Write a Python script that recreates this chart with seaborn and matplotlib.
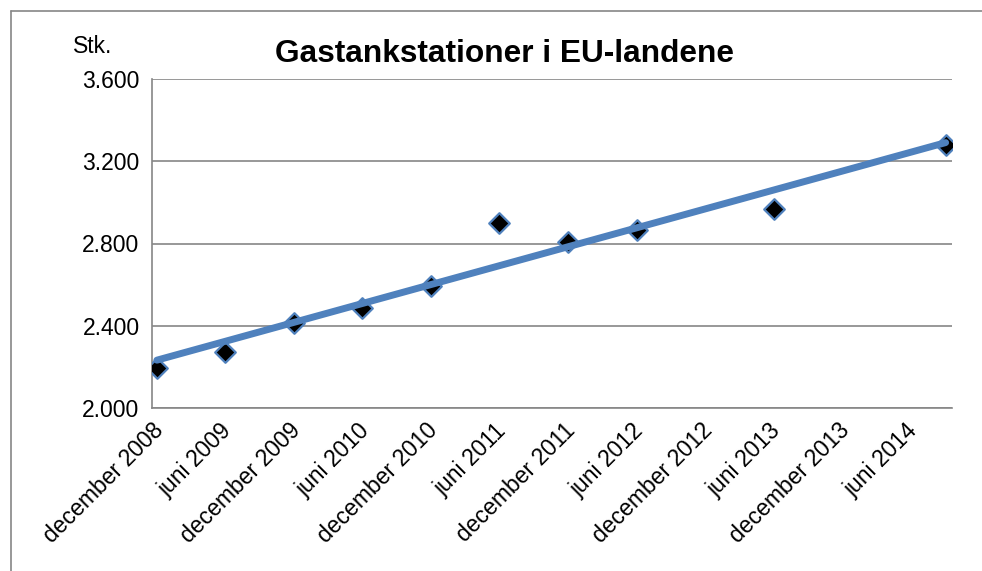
import numpy as np
import pandas as pd
import seaborn as sns
import matplotlib
matplotlib.use("Agg")
import matplotlib.pyplot as plt
import matplotlib.dates as mdates
from matplotlib.lines import Line2D
from matplotlib.ticker import FuncFormatter

# data
dates = ['2008-12-14', '2009-06-14', '2009-12-14', '2010-06-14', '2010-12-14',
         '2011-06-14', '2011-12-14', '2012-06-14', '2013-06-14', '2014-09-14']
stations = [2196, 2274, 2415, 2485, 2593, 2901, 2809, 2866, 2968, 3279]

tick_dates = ['2008-12-01', '2009-06-01', '2009-12-01', '2010-06-01', '2010-12-01',
              '2011-06-01', '2011-12-01', '2012-06-01', '2012-12-01', '2013-06-01',
              '2013-12-01', '2014-06-01']
tick_labels = ['december 2008', 'juni 2009', 'december 2009', 'juni 2010',
               'december 2010', 'juni 2011', 'december 2011', 'juni 2012',
               'december 2012', 'juni 2013', 'december 2013', 'juni 2014']
y_ticks = [2000, 2400, 2800, 3200, 3600]

BLUE = '#4F81BD'
GRAY = '#868686'

sns.set_style('white')
plt.rcParams['font.family'] = ['Liberation Sans', 'DejaVu Sans']
plt.rcParams['text.color'] = 'black'

df = pd.DataFrame({'dato': mdates.date2num(pd.to_datetime(dates)), 'antal': stations})

fig = plt.figure(figsize=(9.82, 5.71), dpi=100)
ax = fig.add_axes([152 / 982, 1 - 408 / 571, 800 / 982, 329 / 571])

sns.scatterplot(data=df, x='dato', y='antal', marker='D', s=110, color='black',
                edgecolor=BLUE, linewidth=1.6, zorder=3, ax=ax)
sns.regplot(data=df, x='dato', y='antal', scatter=False, ci=None, ax=ax,
            line_kws=dict(color=BLUE, lw=5, solid_capstyle='round', zorder=4))

ax.set_xlim(mdates.date2num(pd.Timestamp('2008-12-01')),
            mdates.date2num(pd.Timestamp('2014-10-01')))
ax.set_ylim(2000, 3600)
ax.set_yticks(y_ticks)
ax.yaxis.set_major_formatter(FuncFormatter(lambda v, p: f'{int(v):,}'.replace(',', '.')))
ax.set_xticks(mdates.date2num(pd.to_datetime(tick_dates)))
ax.set_xticklabels(tick_labels, rotation=45, ha='right', rotation_mode='anchor')
ax.set_xlabel('')
ax.set_ylabel('')

ax.grid(axis='y', color=GRAY, lw=1.2)
ax.set_axisbelow(True)
for s in ['top', 'right']:
    ax.spines[s].set_visible(False)
for s in ['left', 'bottom']:
    ax.spines[s].set_color(GRAY)
    ax.spines[s].set_linewidth(1.2)
ax.tick_params(axis='both', which='both', direction='out', length=5, width=1.2,
               color=GRAY, labelsize=16.5, labelcolor='black', pad=4)
ax.tick_params(axis='x', pad=3)

fig.text(504 / 982, 1 - 62 / 571, 'Gastankstationer i EU-landene', ha='center',
         va='baseline', fontsize=22.8, fontweight='bold', color='black')
fig.text(73 / 982, 1 - 53 / 571, 'Stk.', ha='left', va='baseline', fontsize=16.5,
         color='black')

# chart frame (cropped at right and bottom)
fig.add_artist(Line2D([11 / 982, 11 / 982], [0, 1 - 11 / 571], color=GRAY, lw=1.2))
fig.add_artist(Line2D([11 / 982, 1], [1 - 11 / 571, 1 - 11 / 571], color=GRAY, lw=1.2))

fig.savefig('out.png', dpi=100)
